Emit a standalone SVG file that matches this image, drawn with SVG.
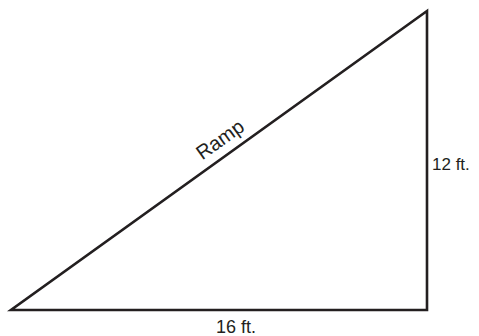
<svg xmlns="http://www.w3.org/2000/svg" width="479" height="336" viewBox="0 0 479 336">
<style>
.edge{fill:none;stroke:#231f20;stroke-width:2.6;stroke-linejoin:miter}
.lbl{font-family:"Liberation Sans",Arial,sans-serif;font-size:17px;fill:#231f20}
.ramp{font-size:20px}
.base{font-size:18px}
</style>
<rect width="479" height="336" fill="#ffffff"/>
<g id="connectors">
<polygon class="edge" points="11,310 427,310 427,11"/>
</g>
<g id="ramp-label"><text class="lbl ramp" x="224" y="145" text-anchor="middle" transform="rotate(-35.6 224 145)">Ramp</text></g>
<g id="height-label"><text class="lbl" x="432" y="170">12 ft.</text></g>
<g id="base-label"><text class="lbl base" x="236" y="333" text-anchor="middle">16 ft.</text></g>
</svg>
